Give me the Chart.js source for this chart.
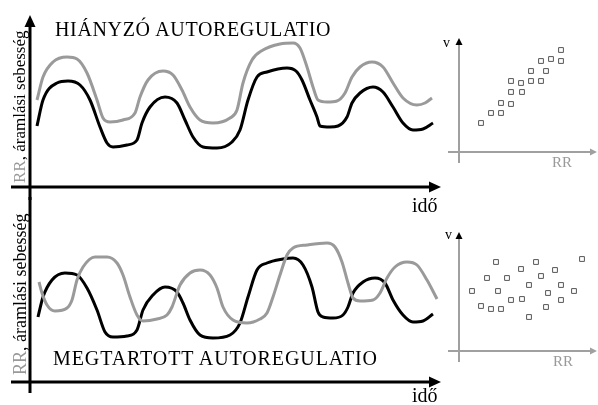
<!DOCTYPE html>
<html lang="hu">
<head>
<meta charset="UTF-8">
<title>Autoreguláció</title>
<style>
    body {
        margin: 0;
        background: #fff;
        width: 598px;
        height: 405px;
        position: relative;
        overflow: hidden;
        font-family: "Liberation Serif", "DejaVu Serif", serif;
        color: #000;
    }
    canvas { position: absolute; }
    .txt { position: absolute; white-space: nowrap; line-height: 1; }
    .gray { color: #999; }
    .ylab {
        position: absolute;
        writing-mode: vertical-rl;
        transform: rotate(180deg);
        white-space: nowrap;
        line-height: 1;
    }
</style>
<script src="https://cdn.jsdelivr.net/npm/chart.js"></script>
</head>
<body>
    <canvas id="lostWave" width="445" height="200" style="left:0;top:0"></canvas>
    <canvas id="keptWave" width="445" height="208" style="left:0;top:197px"></canvas>
    <canvas id="lostScatter" width="158" height="160" style="left:440px;top:20px"></canvas>
    <canvas id="keptScatter" width="158" height="160" style="left:440px;top:220px"></canvas>

    <div class="txt" style="left:55px;top:19px;font-size:20px;letter-spacing:0.65px">HIÁNYZÓ AUTOREGULATIO</div>
    <div class="txt" style="left:53px;top:348px;font-size:20px;letter-spacing:0.9px">MEGTARTOTT AUTOREGULATIO</div>
    <div class="txt" style="left:412px;top:195px;font-size:20px">idő</div>
    <div class="txt" style="left:412px;top:385px;font-size:20px">idő</div>
    <div class="ylab" style="left:11px;top:20px;height:163px;font-size:17px"><span class="gray">RR</span>, áramlási sebesség</div>
    <div class="ylab" style="left:11px;top:200px;height:175px;font-size:18px"><span class="gray">RR</span>, áramlási sebesség</div>
    <div class="txt" style="left:443px;top:36px;font-size:14px">v</div>
    <div class="txt" style="left:445px;top:228px;font-size:14px">v</div>
    <div class="txt gray" style="left:552px;top:155px;font-size:15px">RR</div>
    <div class="txt gray" style="left:553px;top:354px;font-size:15px">RR</div>

<script>
// hiányzó autoreguláció - idő (s) és értékek (tetszőleges egység)
var lostTimeRR = [0.7, 1.3, 2.3, 3.7, 4.7, 5.7, 6.7, 7.3, 8.0, 9.3, 10.5, 11.0, 11.8, 13.3, 14.3, 15.2, 16.0, 17.0, 18.3, 20.0, 20.7, 21.3, 22.2, 23.3, 25.0, 26.3, 27.0, 27.7, 28.3, 28.8, 29.7, 30.7, 31.5, 32.2, 33.0, 34.2, 35.3, 36.3, 37.3, 38.7, 39.5, 40.2];
var lostRR     = [8.7, 11.0, 12.5, 13.0, 12.8, 11.4, 8.7, 6.9, 6.5, 6.7, 7.4, 9.0, 10.7, 11.6, 11.2, 9.7, 8.0, 6.7, 6.4, 6.9, 7.7, 10.4, 12.7, 13.7, 14.3, 14.4, 13.9, 12.0, 10.0, 8.7, 8.5, 8.6, 9.4, 11.0, 12.0, 12.5, 12.0, 10.4, 8.9, 8.2, 8.4, 8.9];
var lostTimeFlow = [0.7, 1.3, 2.7, 3.8, 5.0, 6.0, 7.0, 7.7, 8.3, 9.7, 10.7, 11.2, 12.0, 13.5, 14.7, 15.5, 16.3, 17.3, 18.7, 20.2, 21.0, 21.8, 22.7, 23.7, 25.7, 26.6, 27.2, 28.0, 28.7, 29.0, 30.0, 30.8, 31.7, 32.2, 33.0, 34.3, 35.3, 36.3, 37.3, 38.3, 39.3, 40.3];
var lostFlow     = [6.1, 8.7, 10.4, 10.6, 10.2, 8.7, 6.0, 4.4, 4.0, 4.2, 4.7, 6.4, 8.0, 9.0, 8.4, 6.7, 5.0, 4.0, 3.9, 4.5, 5.7, 8.7, 11.0, 11.5, 11.9, 11.6, 10.7, 8.7, 7.0, 6.1, 6.0, 6.1, 7.0, 8.4, 9.4, 10.0, 9.5, 8.0, 6.4, 5.7, 5.8, 6.4];

// megtartott autoreguláció
var keptTimeRR = [0.9, 1.2, 1.7, 2.5, 3.7, 4.2, 4.7, 5.3, 6.5, 7.7, 8.7, 9.3, 10.0, 10.7, 11.3, 12.7, 13.7, 14.2, 15.0, 16.0, 17.0, 18.0, 18.7, 19.3, 20.3, 21.7, 23.0, 23.7, 24.3, 25.0, 25.7, 26.3, 27.7, 29.7, 30.5, 31.2, 31.8, 32.3, 33.0, 34.3, 35.0, 35.7, 36.5, 37.7, 38.7, 39.7, 40.7];
var keptRR     = [10.0, 8.9, 7.7, 7.1, 7.4, 8.2, 10.2, 11.5, 12.5, 12.5, 11.9, 10.7, 8.5, 6.7, 6.1, 6.3, 6.7, 7.5, 9.7, 10.9, 11.2, 10.7, 9.4, 7.5, 6.2, 5.9, 6.3, 6.9, 8.5, 10.7, 12.7, 13.4, 13.7, 13.9, 13.5, 12.0, 9.9, 8.4, 8.1, 8.2, 8.9, 10.4, 11.5, 12.0, 11.7, 10.2, 8.3];
var keptTimeFlow = [0.8, 1.3, 2.2, 3.5, 4.7, 5.7, 6.7, 7.5, 8.3, 9.7, 10.7, 11.3, 12.3, 13.5, 14.7, 15.3, 16.0, 17.0, 18.3, 20.0, 21.0, 21.8, 22.7, 23.7, 25.3, 26.3, 27.3, 28.2, 28.8, 29.3, 30.3, 31.3, 31.8, 32.3, 33.3, 34.5, 35.5, 36.3, 37.3, 38.3, 39.3, 40.3];
var keptFlow     = [6.5, 8.5, 10.2, 10.9, 10.7, 9.4, 7.2, 5.0, 4.5, 4.6, 5.2, 7.2, 8.7, 9.5, 9.0, 7.9, 6.2, 4.7, 4.4, 4.7, 5.9, 8.5, 11.2, 11.9, 12.3, 12.4, 11.7, 9.5, 7.0, 6.5, 6.4, 6.7, 7.5, 8.9, 10.0, 10.4, 9.9, 8.2, 6.7, 6.0, 6.1, 6.8];

// szórásdiagramok: RR (vízszintes) és v (függőleges)
var lostScatterRR = [2.2, 3.2, 4.2, 4.2, 5.2, 5.2, 6.3, 5.2, 6.2, 7.2, 8.2, 7.2, 8.7, 8.2, 9.2, 10.2, 10.2];
var lostScatterV  = [2.9, 3.9, 3.9, 4.9, 4.8, 6.0, 6.0, 7.1, 6.9, 7.1, 7.1, 8.1, 8.1, 9.1, 9.3, 9.1, 10.2];
var keptScatterRR = [1.3, 2.2, 3.2, 4.2, 2.8, 3.7, 3.9, 4.8, 5.2, 6.2, 6.3, 7.0, 7.0, 7.7, 8.2, 8.7, 8.9, 9.6, 10.2, 10.2, 11.5, 12.3];
var keptScatterV  = [6.0, 4.5, 4.2, 4.2, 7.3, 8.9, 6.0, 7.3, 5.1, 8.2, 5.2, 6.6, 3.4, 8.9, 7.5, 4.4, 5.8, 8.1, 6.6, 5.1, 6.0, 9.2];

function pts(xs, ys) {
    return xs.map(function(x, i) { return { x: x, y: ys[i] }; });
}

function head(ctx, x, y, dir, len, half, color) {
    ctx.fillStyle = color;
    ctx.beginPath();
    if (dir === 'right') {
        ctx.moveTo(x, y); ctx.lineTo(x - len, y - half); ctx.lineTo(x - len, y + half);
    } else {
        ctx.moveTo(x, y); ctx.lineTo(x - half, y + len); ctx.lineTo(x + half, y + len);
    }
    ctx.closePath();
    ctx.fill();
}

// tengelyek nyilakkal
var arrowAxes = {
    id: 'arrowAxes',
    beforeDatasetsDraw: function(chart, args, o) {
        var ctx = chart.ctx;
        var x0 = chart.scales.x.getPixelForValue(0);
        var y0 = chart.scales.y.getPixelForValue(0);
        var yTop = chart.scales.y.getPixelForValue(chart.scales.y.max);
        ctx.save();
        ctx.lineWidth = o.width;
        ctx.strokeStyle = o.hColor;
        ctx.beginPath();
        ctx.moveTo(o.hFrom, y0);
        ctx.lineTo(o.hTo - o.len + 1, y0);
        ctx.stroke();
        head(ctx, o.hTo, y0, 'right', o.len, o.half, o.hHead);
        ctx.strokeStyle = o.vColor;
        ctx.beginPath();
        ctx.moveTo(x0, o.vArrow ? yTop + o.len - 1 : o.vFrom);
        ctx.lineTo(x0, o.vTo);
        ctx.stroke();
        if (o.vArrow) head(ctx, x0, yTop, 'up', o.len, o.half, o.vHead);
        ctx.restore();
    }
};

function waveChart(id, rrPts, flowPts, yMax, pad, axes) {
    return new Chart(document.getElementById(id), {
        type: 'line',
        data: {
            datasets: [{
                label: 'RR',
                data: rrPts,
                borderColor: '#9a9a9a',
                borderWidth: 3,
                pointRadius: 0,
                cubicInterpolationMode: 'monotone',
                fill: false
            }, {
                label: 'áramlási sebesség',
                data: flowPts,
                borderColor: '#000',
                borderWidth: 3,
                pointRadius: 0,
                cubicInterpolationMode: 'monotone',
                fill: false
            }]
        },
        options: {
            responsive: false,
            animation: false,
            devicePixelRatio: 1,
            events: [],
            layout: { padding: pad },
            scales: {
                x: { type: 'linear', min: 0, max: 41, display: false },
                y: { type: 'linear', min: 0, max: yMax, display: false }
            },
            plugins: {
                legend: { display: false },
                tooltip: { enabled: false },
                arrowAxes: axes
            }
        },
        plugins: [arrowAxes]
    });
}

function scatterChart(id, xs, ys, yMax, pad, axes) {
    return new Chart(document.getElementById(id), {
        type: 'scatter',
        data: {
            datasets: [{
                data: pts(xs, ys),
                pointStyle: 'rect',
                pointRadius: 3.4,
                borderWidth: 1,
                borderColor: '#555',
                backgroundColor: '#fff'
            }]
        },
        options: {
            responsive: false,
            animation: false,
            devicePixelRatio: 1,
            events: [],
            layout: { padding: pad },
            scales: {
                x: { type: 'linear', min: 0, max: 13.1, display: false },
                y: { type: 'linear', min: 0, max: yMax, display: false }
            },
            plugins: {
                legend: { display: false },
                tooltip: { enabled: false },
                arrowAxes: axes
            }
        },
        plugins: [arrowAxes]
    });
}

var waveAxes = { width: 3, hColor: '#000', hHead: '#000', vColor: '#000', vHead: '#000', len: 12, half: 5.5 };

waveChart('lostWave', pts(lostTimeRR, lostRR), pts(lostTimeFlow, lostFlow), 17.2,
    { left: 30, right: 5, top: 15, bottom: 13 },
    Object.assign({}, waveAxes, { hFrom: 11, hTo: 441, vArrow: true, vTo: 200 }));

waveChart('keptWave', pts(keptTimeRR, keptRR), pts(keptTimeFlow, keptFlow), 18.2,
    { left: 30, right: 5, top: 3, bottom: 23 },
    Object.assign({}, waveAxes, { hFrom: 11, hTo: 441, vArrow: false, vFrom: 0, vTo: 196 }));

var scAxes = { width: 2, hColor: '#a0a0a0', hHead: '#a0a0a0', vColor: '#a0a0a0', vHead: '#000', len: 7, half: 3.5, vArrow: true, hFrom: 8, hTo: 157 };

scatterChart('lostScatter', lostScatterRR, lostScatterV, 11.4,
    { left: 19, right: 8, top: 18, bottom: 28 },
    Object.assign({}, scAxes, { vTo: 143 }));

scatterChart('keptScatter', keptScatterRR, keptScatterV, 11.9,
    { left: 19, right: 8, top: 12, bottom: 29 },
    Object.assign({}, scAxes, { vTo: 142 }));
</script>
</body>
</html>
